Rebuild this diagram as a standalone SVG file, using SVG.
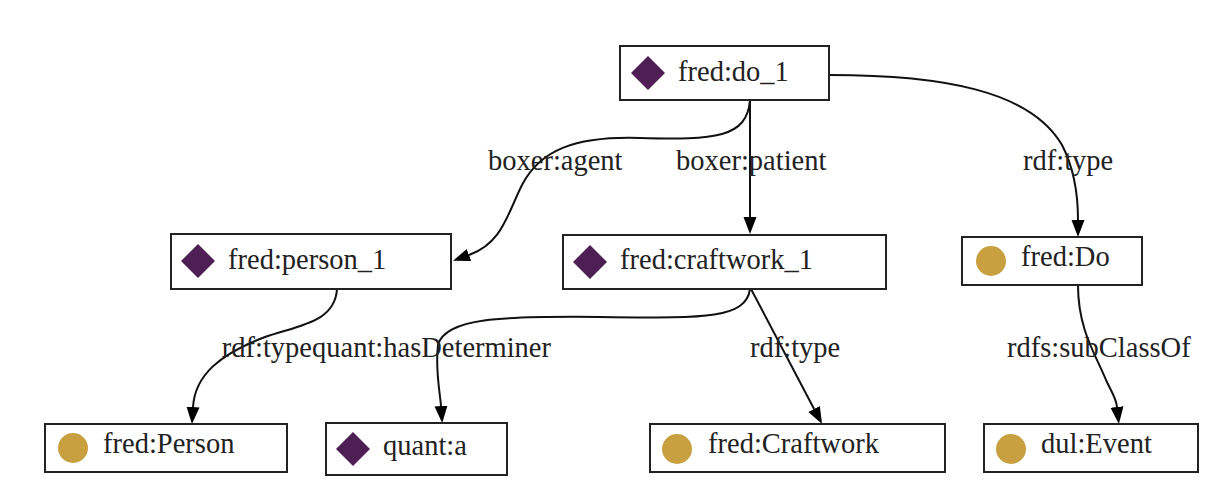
<svg xmlns="http://www.w3.org/2000/svg" width="1226" height="500" viewBox="0 0 1226 500">
<style>
.box{fill:#fff;stroke:#222;stroke-width:2}
.ind{fill:#4e1f55}
.cls{fill:#c8a040}
text{font-family:"Liberation Serif","Times New Roman",serif;font-size:28.5px;fill:#222}
.edge{fill:none;stroke:#111;stroke-width:2}
</style>
<defs>
<marker id="arr" markerUnits="userSpaceOnUse" markerWidth="18" markerHeight="14" refX="0" refY="7" orient="auto" viewBox="0 0 18 14">
<path d="M0,0.5 L17,7 L0,13.5 z" fill="#000"/>
</marker>
</defs>
<rect width="1226" height="500" fill="#fff"/>
<g id="connectors">
<path class="edge" marker-end="url(#arr)" d="M750,100 C747,138 715,140 640,138 C575,136 540,150 522,185 C507,215 502,243 469,255"/>
<path class="edge" marker-end="url(#arr)" d="M750,100 L750,217"/>
<path class="edge" marker-end="url(#arr)" d="M830,75 C940,75 1030,90 1062,145 C1075,170 1078,195 1078,220"/>
<path class="edge" marker-end="url(#arr)" d="M337,289 C335,322 300,325 265,337 C220,354 195,375 193,407"/>
<path class="edge" marker-end="url(#arr)" d="M750,289 C746,320 700,318 600,317 C500,316 445,318 438,345 C435,370 440,392 441,406"/>
<path class="edge" marker-end="url(#arr)" d="M751,289 L814.1,409"/>
<path class="edge" marker-end="url(#arr)" d="M1078,285 C1078,330 1096,355 1106,380 C1113,395 1116,398 1117,407"/>
<text x="488" y="170">boxer:agent</text>
<text x="676" y="170">boxer:patient</text>
<text x="1023" y="170">rdf:type</text>
<text x="312" y="357" text-anchor="end">rdf:type</text>
<text x="312" y="357">quant:hasDeterminer</text>
<text x="750" y="357">rdf:type</text>
<text x="1007" y="357">rdfs:subClassOf</text>
</g>
<g id="node-do_1">
<rect class="box" x="620" y="46" width="209" height="54"/>
<polygon class="ind" points="648,56 665,73 648,90 631,73"/>
<text x="678" y="81">fred:do_1</text>
</g>
<g id="node-person_1">
<rect class="box" x="171" y="234" width="280" height="55"/>
<polygon class="ind" points="198,244 215,261 198,278 181,261"/>
<text x="228" y="269">fred:person_1</text>
</g>
<g id="node-craftwork_1">
<rect class="box" x="563" y="235" width="323" height="54"/>
<polygon class="ind" points="590,245 607,262 590,279 573,262"/>
<text x="620" y="269">fred:craftwork_1</text>
</g>
<g id="node-Do">
<rect class="box" x="962" y="237" width="180" height="48"/>
<circle class="cls" cx="991" cy="261" r="15"/>
<text x="1021" y="266">fred:Do</text>
</g>
<g id="node-Person">
<rect class="box" x="45" y="424" width="242" height="48"/>
<circle class="cls" cx="73" cy="448" r="15"/>
<text x="103" y="453">fred:Person</text>
</g>
<g id="node-quant_a">
<rect class="box" x="326" y="423" width="181" height="52"/>
<polygon class="ind" points="353,432 370,449 353,466 336,449"/>
<text x="383" y="455">quant:a</text>
</g>
<g id="node-Craftwork">
<rect class="box" x="650" y="424" width="295" height="48"/>
<circle class="cls" cx="677" cy="449" r="15"/>
<text x="708" y="453">fred:Craftwork</text>
</g>
<g id="node-Event">
<rect class="box" x="984" y="424" width="214" height="48"/>
<circle class="cls" cx="1011" cy="449" r="15"/>
<text x="1041" y="453">dul:Event</text>
</g>
</svg>
